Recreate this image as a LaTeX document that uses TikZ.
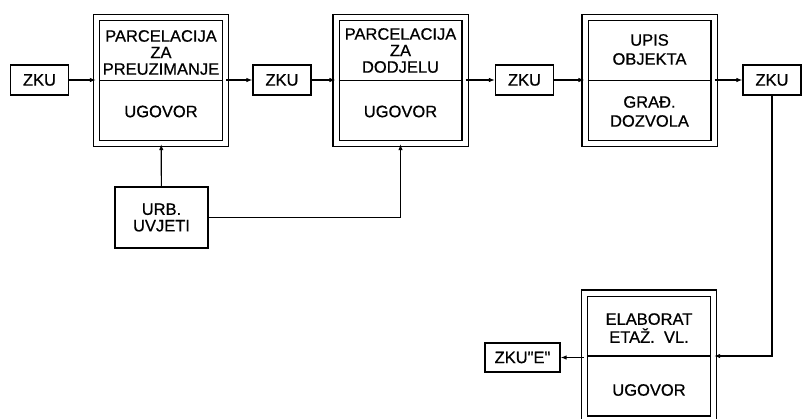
\documentclass[tikz,border=0pt]{standalone}
\usepackage{fontspec}
\setmainfont{Liberation Sans}
\newfontfamily\techfont[FakeBold=0.7]{Liberation Sans}
\usetikzlibrary{positioning, arrows.meta, calc}
\tikzset{
  % --- small boxes (ZKU, conditions) ---
  zkubox/.style={draw, line width=1.2pt, minimum width=58pt, minimum height=30pt,
    inner sep=0pt, align=center, font=\techfont\fontsize{16.5}{16.5}\selectfont},
  % --- double framed document boxes (two compartments) ---
  dblbox/.style={draw, double, double distance=5pt, line width=1.2pt,
    minimum width=129pt, minimum height=126pt, inner sep=0pt},
  boxtxt/.style={align=center, inner sep=0pt, font=\techfont\fontsize{16.5}{16.5}\selectfont},
  divider/.style={line width=1.2pt},
  % --- connectors ---
  flow/.style={-{Latex[length=6pt, width=4.5pt]}, line width=1.2pt},
}

\begin{document}
\begin{tikzpicture}[x=1pt, y=-1pt]
  \useasboundingbox (0,0) rectangle (802,418);
  % document boxes
  \node[dblbox] (b1) at (161,80.5) {};
  \node[dblbox] (b2) at (400.5,80.5) {};
  \node[dblbox] (b3) at (649.5,80.5) {};
  \node[dblbox] (b4) at (649,356) {};
  \foreach \b in {b1,b2,b3,b4}{
    \draw[divider] ([xshift=3.1pt]\b.west) -- ([xshift=-3.1pt]\b.east); }
  % compartment texts
  \node[boxtxt] (b1top) at ([yshift=28pt]b1.center) {PARCELACIJA\\ZA\\PREUZIMANJE};
  \node[boxtxt] (b1bot) at ([yshift=-31pt]b1.center) {UGOVOR};
  \node[boxtxt] (b2top) at ([yshift=30pt]b2.center) {PARCELACIJA\\ZA\\DODJELU};
  \node[boxtxt] (b2bot) at ([yshift=-31pt]b2.center) {UGOVOR};
  \node[boxtxt, font=\techfont\fontsize{16.5}{19}\selectfont] (b3top) at ([yshift=31pt]b3.center) {UPIS\\OBJEKTA};
  \node[boxtxt, font=\techfont\fontsize{16.5}{19}\selectfont] (b3bot) at ([yshift=-31pt]b3.center) {GRAĐ.\\DOZVOLA};
  \node[boxtxt, font=\techfont\fontsize{16.5}{18}\selectfont] (b4top) at ([yshift=28pt]b4.center) {ELABORAT\\ETAŽ.\ \ VL.};
  \node[boxtxt] (b4bot) at ([yshift=-34pt]b4.center) {UGOVOR};
  % small boxes
  \node[zkubox] (z1) at (39.5,80) {ZKU};
  \node[zkubox] (z2) at (282,80) {ZKU};
  \node[zkubox] (z3) at (524.5,80) {ZKU};
  \node[zkubox] (z4) at (772,80) {ZKU};
  \node[zkubox, minimum width=75pt, minimum height=29pt] (ze) at (522.5,357.5) {ZKU"E"};
  \node[zkubox, minimum width=93pt, minimum height=61pt] (urb) at (161.5,217.5) {URB.\\UVJETI};
  % flow
  \draw[flow] (z1) -- (b1.west |- z1);
  \draw[flow] (b1.east |- z2) -- (z2);
  \draw[flow] (z2) -- (b2.west |- z2);
  \draw[flow] (b2.east |- z3) -- (z3);
  \draw[flow] (z3) -- (b3.west |- z3);
  \draw[flow] (b3.east |- z4) -- (z4);
  \draw[flow] (urb) -- (b1);
  \draw[flow] (urb) -| (b2);
  \draw[flow] (z4) |- (b4);
  \draw[flow] (b4.west |- ze) -- (ze);
\end{tikzpicture}
\end{document}
